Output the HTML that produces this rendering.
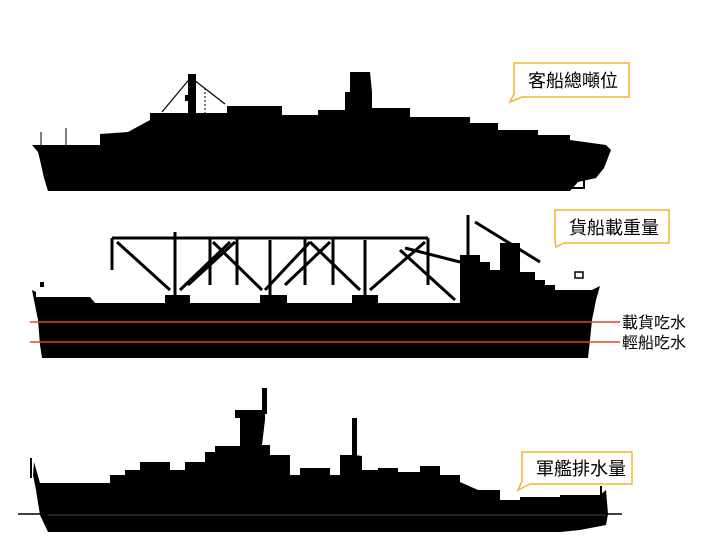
<!DOCTYPE html>
<html><head><meta charset="utf-8"><style>
html,body{margin:0;padding:0;background:#fff;width:703px;height:555px;overflow:hidden}
svg{display:block}
text{font-family:"Liberation Sans","Noto Sans CJK TC",sans-serif;fill:#000}
</style></head><body>
<svg width="703" height="555" viewBox="0 0 703 555" xmlns="http://www.w3.org/2000/svg">
<!-- Ship 1: passenger -->
<g fill="#000">
<polygon points="32,145 100,145 100,134 128,132 150,120 150,113 227,113 227,106 282,106 282,115 318,115 318,110 345,110 345,92 350,92 350,72 370,72 372,92 372,108 410,108 410,117 470,117 470,123 498,123 498,130 538,130 538,135 570,135 570,140 606,145 611,150 604,168 596,178 578,182 570,191 48,191 44,178 40,160 38,152"/>
<rect x="188" y="74" width="8" height="40"/>
<rect x="185" y="95" width="10" height="6"/>
<rect x="570" y="178" width="14" height="10" fill="none" stroke="#000" stroke-width="2"/>
<line x1="192" y1="76" x2="162" y2="112" stroke="#000" stroke-width="1.2"/>
<line x1="194" y1="80" x2="225" y2="104" stroke="#000" stroke-width="1.2"/>
<line x1="205" y1="88" x2="205" y2="114" stroke="#000" stroke-width="1" stroke-dasharray="2,2"/>
<line x1="66" y1="128" x2="66" y2="146" stroke="#000" stroke-width="1"/>
<line x1="41" y1="132" x2="41" y2="146" stroke="#000" stroke-width="1"/>
</g>
<!-- Ship 2: cargo -->
<g fill="#000">
<polygon points="32,290 36,292 36,297 90,297 95,303 165,303 165,295 190,295 190,303 260,303 260,295 287,295 287,303 352,303 352,295 378,295 378,303 460,303 460,255 480,255 480,262 490,262 490,270 500,270 500,243 520,243 520,272 535,272 535,280 545,280 545,285 555,285 555,290 592,290 600,286 596,300 592,320 590,340 588,358 42,358 40,345 38,320 35,305"/>
<g stroke="#000" stroke-width="3" fill="none">
<line x1="112" y1="238" x2="428" y2="238"/>
<line x1="112" y1="238" x2="112" y2="270"/>
<line x1="175" y1="232" x2="175" y2="295"/>
<line x1="210" y1="238" x2="210" y2="285"/>
<line x1="237" y1="238" x2="237" y2="285"/>
<line x1="270" y1="240" x2="270" y2="295"/>
<line x1="305" y1="238" x2="305" y2="285"/>
<line x1="333" y1="238" x2="333" y2="285"/>
<line x1="365" y1="240" x2="365" y2="295"/>
<line x1="428" y1="238" x2="428" y2="285"/>
<line x1="117" y1="242" x2="170" y2="290"/>
<line x1="230" y1="242" x2="180" y2="290"/>
<line x1="213" y1="242" x2="262" y2="290"/>
<line x1="235" y1="242" x2="188" y2="285"/>
<line x1="310" y1="242" x2="265" y2="290"/>
<line x1="310" y1="242" x2="360" y2="290"/>
<line x1="330" y1="242" x2="285" y2="285"/>
<line x1="425" y1="242" x2="370" y2="290"/>
<line x1="400" y1="250" x2="455" y2="300"/>
<line x1="468" y1="215" x2="468" y2="255"/>
<line x1="475" y1="222" x2="540" y2="262"/>
<line x1="405" y1="248" x2="460" y2="262"/>
</g>
<rect x="575" y="272" width="8" height="6" fill="none" stroke="#000" stroke-width="1.5"/>
<rect x="40" y="282" width="4" height="5"/>
</g>
<line x1="30" y1="322" x2="620" y2="322" stroke="#e8402a" stroke-width="1.5"/>
<line x1="30" y1="342" x2="620" y2="342" stroke="#e8402a" stroke-width="1.5"/>
<text x="622" y="328" font-size="16">載貨吃水</text>
<text x="622" y="348" font-size="16">輕船吃水</text>
<!-- Ship 3: warship -->
<g fill="#000">
<polygon points="34,462 40,483 110,483 110,475 125,475 125,470 140,470 140,462 170,462 170,470 185,470 185,462 205,462 205,452 215,452 215,446 240,446 240,418 235,418 235,410 265,410 265,420 262,445 270,445 270,455 290,455 290,475 300,475 300,468 330,468 330,475 340,475 340,455 345,455 345,455 355,455 362,456 362,470 378,470 378,468 398,468 398,472 420,472 420,466 440,466 440,475 460,475 460,482 478,490 500,490 500,500 520,500 520,497 560,497 560,495 600,495 606,490 608,514 606,525 580,530 560,532 48,532 40,515 36,490 33,475"/>
<rect x="262" y="388" width="5" height="26"/>
<rect x="352" y="418" width="5" height="38"/>
<rect x="30" y="458" width="2" height="20"/>
<rect x="600" y="486" width="2" height="14"/>
</g>
<line x1="18" y1="514" x2="622" y2="514" stroke="#000" stroke-width="1.5"/>
<line x1="48" y1="515" x2="606" y2="515" stroke="#444" stroke-width="1"/>
<!-- callouts -->
<g fill="#fff" stroke="#f2b72e" stroke-width="1.5">
<path d="M514,63 H629 V97 H522 L510,102 L514,94 Z"/>
<path d="M555,210 H669 V243 H564 L556,247 L555,240 Z"/>
<path d="M522,452 H632 V484 H530 L518,490 L522,481 Z"/>
</g>
<text x="528" y="87" font-size="18">客船總噸位</text>
<text x="569" y="234" font-size="18">貨船載重量</text>
<text x="536" y="475" font-size="18">軍艦排水量</text>
</svg>
</body></html>
